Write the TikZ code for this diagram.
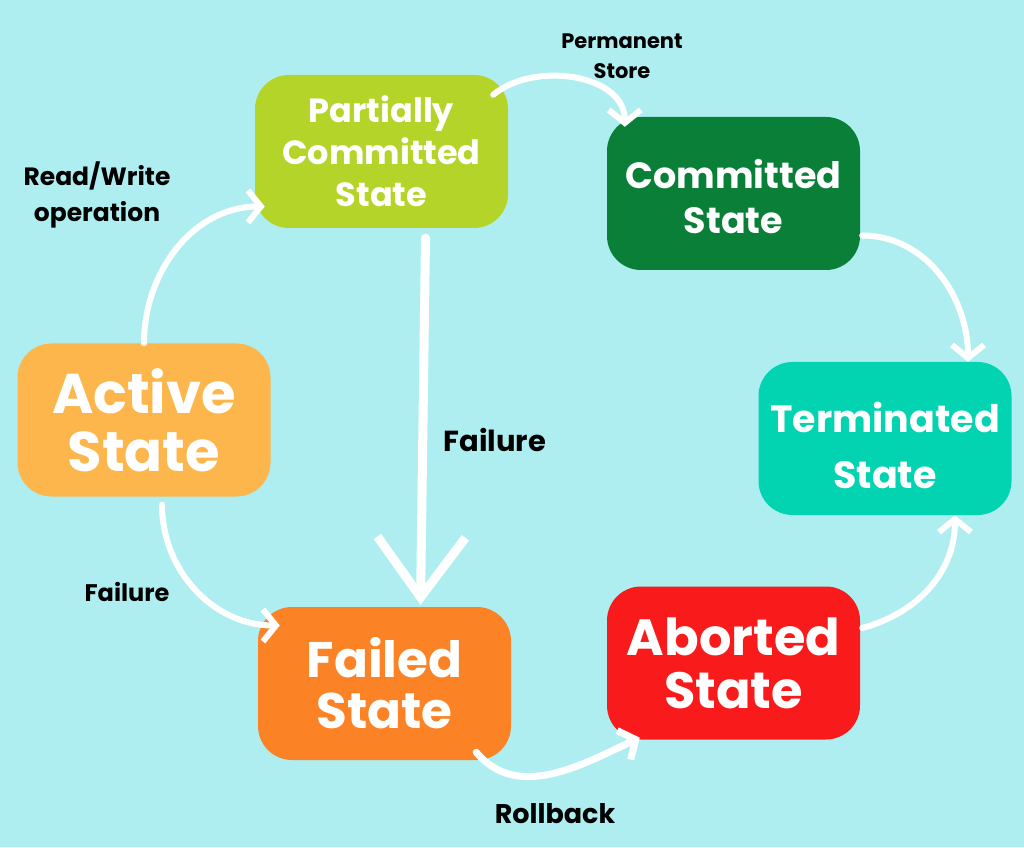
\documentclass[tikz,border=0pt]{standalone}
\usepackage{fontspec}
\setmainfont{Poppins}
\usetikzlibrary{arrows.meta,calc}
\definecolor{bgcol}{HTML}{AEEEF0}
\definecolor{partcol}{HTML}{B5D429}
\definecolor{commcol}{HTML}{0A7F38}
\definecolor{actcol}{HTML}{FDB64C}
\definecolor{termcol}{HTML}{02D3B0}
\definecolor{failcol}{HTML}{FC8226}
\definecolor{abortcol}{HTML}{F91B1B}
\begin{document}
\begin{tikzpicture}[x=1pt,y=1pt,
  state/.style={rounded corners=34pt, minimum width=253pt, minimum height=153pt, text=white, align=center},
  trans/.style={white, line width=6pt, line cap=round, -{Straight Barb[length=13pt,width=32pt]}},
  lbl/.style={black, align=center}]
\fill[bgcol] (0,0) rectangle (1024,847);
\useasboundingbox (0,0) rectangle (1024,847);
% states
\node[state, fill=partcol, font=\bfseries\fontsize{33.5}{42}\selectfont] (partial) at (381.5,695.5) {Partially\\Committed\\State};
\node[state, fill=commcol, font=\bfseries\fontsize{36.5}{45}\selectfont] (committed) at (733.5,653.5) {\rule{0pt}{35pt}Committed\\State};
\node[state, fill=actcol, font=\bfseries\fontsize{56}{58}\selectfont] (active) at (144,427) {Active\\State};
\node[state, fill=termcol, font=\bfseries\fontsize{38}{56}\selectfont] (terminated) at (885,408.5) {\rule{0pt}{44pt}Terminated\\State};
\node[state, fill=failcol, font=\bfseries\fontsize{50}{51}\selectfont] (failed) at (384.5,163.5) {Failed\\State};
\node[state, fill=abortcol, font=\bfseries\fontsize{51}{53}\selectfont] (aborted) at (733.5,184) {Aborted\\State};
% transitions
\draw[trans] (active.north) to[out=90,in=180] ($(partial.west)+(10,-55)$);
\draw[trans] ($(partial.north east)+(-15,-20)$) to[out=40,in=90] ($(committed.north west)+(18,-10)$);
\draw[trans] ($(committed.east)+(2,-42)$) to[out=0,in=90] ($(terminated.north)+(83,0)$);
\draw[trans] ($(active.south)+(18,-8)$) to[out=-90,in=180] ($(failed.west)+(22,58)$);
\draw[trans, line width=9pt, -{Straight Barb[length=60pt,width=88pt]}] ($(partial.south)+(44,-10)$) -- ($(failed.north)+(36,2)$);
\draw[trans, line width=7pt] ($(failed.south east)+(-35,8)$) to[out=-50,in=205] ($(aborted.south west)+(33,2)$);
\draw[trans] ($(aborted.east)+(2,35)$) to[out=15,in=-90] ($(terminated.south)+(70,0)$);
% labels
\node[lbl, font=\bfseries\fontsize{25}{36}\selectfont] (rw) at (97,652) {Read/Write\\operation};
\node[lbl, font=\bfseries\fontsize{21}{30}\selectfont] (perm) at (622,791) {Permanent\\Store};
\node[lbl, font=\bfseries\fontsize{29}{30}\selectfont] (fail1) at (495,407) {Failure};
\node[lbl, font=\bfseries\fontsize{24}{30}\selectfont] (fail2) at (127,255) {Failure};
\node[lbl, font=\bfseries\fontsize{27}{30}\selectfont] (rb) at (555,33) {Rollback};
\end{tikzpicture}
\end{document}
